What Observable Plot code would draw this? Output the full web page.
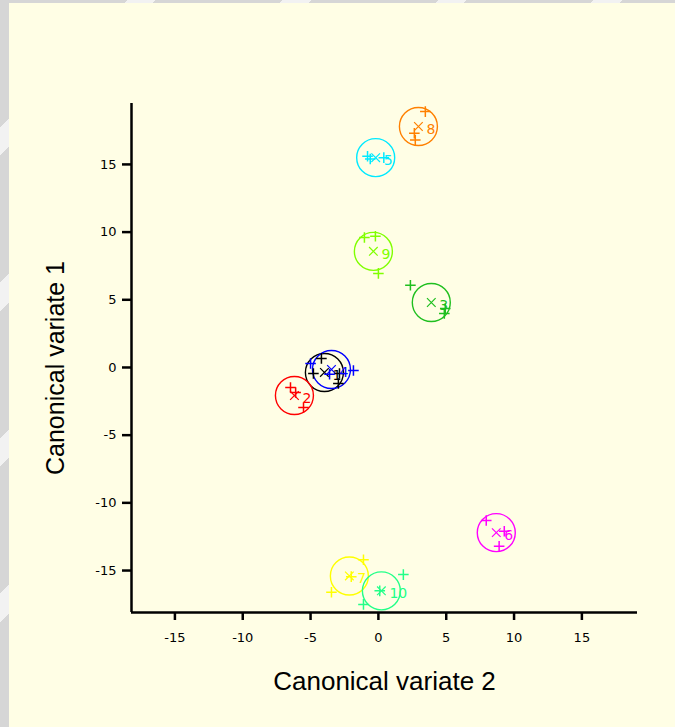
<!DOCTYPE html>
<html>
<head>
<meta charset="utf-8">
<script src="https://cdn.jsdelivr.net/npm/d3@7"></script>
<script src="https://cdn.jsdelivr.net/npm/@observablehq/plot@0.6"></script>
<style>
  html, body { margin: 0; padding: 0; }
  #wrap { position: relative; width: 675px; height: 727px; overflow: hidden;
    background: repeating-linear-gradient(135deg, #d6d6d6 0 90px, #f2f2f2 90px 110px); }
  #panel { position: absolute; left: 9px; top: 3px; right: 0; bottom: 0; background: #fffee5; }
  #chart { position: absolute; left: 0; top: 0; }
</style>
</head>
<body>
<div id="wrap"><div id="panel"></div><div id="chart"></div></div>
<script>
// ---- data ----
const groups = ["1", "2", "3", "4", "5", "6", "7", "8", "9", "10"];
const meanX = [-3.98, -6.19, 3.9, -3.46, -0.2, 8.69, -2.14, 2.95, -0.37, 0.22];
const meanY = [-0.37, -2.07, 4.8, -0.15, 15.5, -12.2, -15.4, 17.8, 8.58, -16.5];

const ptGroup = ["1","1","1","1", "2","2","2", "3","3","3", "4","4","4", "5","5","5",
                 "6","6","6", "7","7","7", "8","8","8", "9","9","9", "10","10","10"];
const ptX = [-4.2, -4.79, -2.87, -2.95,  -6.48, -6.1, -5.52,  2.36, 4.93, 4.86,  -5.0, -1.84, -3.6,
             -0.8, -0.6, 0.4,  7.95, 9.28, 8.9,  -1.1, -3.46, -2.0,  3.46, 2.65, 2.72,
             -1.03, -0.22, 0.0,  1.84, -1.1, 0.1];
const ptY = [0.67, -0.44, -0.44, -1.18,  -1.48, -1.85, -2.96,  6.07, 4.36, 3.99,  0.3, -0.22, -0.5,
             15.6, 15.4, 15.5,  -11.3, -12.1, -13.2,  -14.2, -16.6, -15.45,  18.9, 17.3, 16.8,
             9.6, 9.7, 6.95,  -15.3, -17.5, -16.5];

const xTicks = [-15, -10, -5, 0, 5, 10, 15];
const yTicks = [-15, -10, -5, 0, 5, 10, 15];
const xLabel = "Canonical variate 2";
const yLabel = "Canonical variate 1";

// ---- styles ----
const groupColors = ["#000000", "#ff0000", "#1fbf1f", "#0000ff", "#00eaff",
                     "#ff00ff", "#ffff00", "#ff8000", "#80ff00", "#22ff88"];

const means = groups.map((g, i) => ({g, x: meanX[i], y: meanY[i]}));
const pts = ptGroup.map((g, i) => ({g, x: ptX[i], y: ptY[i]}));
const xDom = [-18.2, 19.1], yDom = [-18.1, 19.5];
const tickFont = "DejaVu Sans, Verdana, sans-serif";
const labelFont = "Liberation Sans, Arial, sans-serif";
const fmt = d => String(d);

const chart = Plot.plot({
  width: 675, height: 727,
  marginLeft: 131, marginRight: 38, marginTop: 103, marginBottom: 115,
  style: {background: "transparent", overflow: "visible", fontFamily: labelFont},
  x: {domain: xDom},
  y: {domain: yDom},
  color: {domain: groups, range: groupColors},
  marks: [
    Plot.axisX({ticks: xTicks, tickFormat: fmt, tickSize: 8, tickPadding: 12, strokeWidth: 2.5, label: null, fill: "#000", fontSize: 13, fontFamily: tickFont}),
    Plot.axisY({ticks: yTicks, tickFormat: fmt, tickSize: 9, tickPadding: 6, strokeWidth: 2.5, label: null, fill: "#000", fontSize: 13, fontFamily: tickFont}),
    Plot.ruleY([yDom[0]], {stroke: "#000", strokeWidth: 2.5}),
    Plot.ruleX([xDom[0]], {stroke: "#000", strokeWidth: 2.5}),
    Plot.dot(means, {x: "x", y: "y", r: 19, stroke: "g", strokeWidth: 1.4, fill: "none"}),
    Plot.dot(means, {x: "x", y: "y", symbol: "times", r: 4, stroke: "g", strokeWidth: 1.2}),
    Plot.dot(pts, {x: "x", y: "y", symbol: "plus", r: 3.5, stroke: "g", strokeWidth: 1.5}),
    Plot.text(means, {x: "x", y: "y", text: "g", fill: "g", dx: 8, dy: 3, textAnchor: "start", fontSize: 14, fontFamily: tickFont}),
    Plot.text([xLabel], {frameAnchor: "bottom", lineAnchor: "middle", dy: 69, fontSize: 26, fill: "#000"}),
    Plot.text([yLabel], {frameAnchor: "left", textAnchor: "middle", lineAnchor: "middle", dx: -76, dy: 10, rotate: -90, fontSize: 25, fill: "#000"})
  ]
});
document.getElementById("chart").appendChild(chart);
</script>
</body>
</html>
